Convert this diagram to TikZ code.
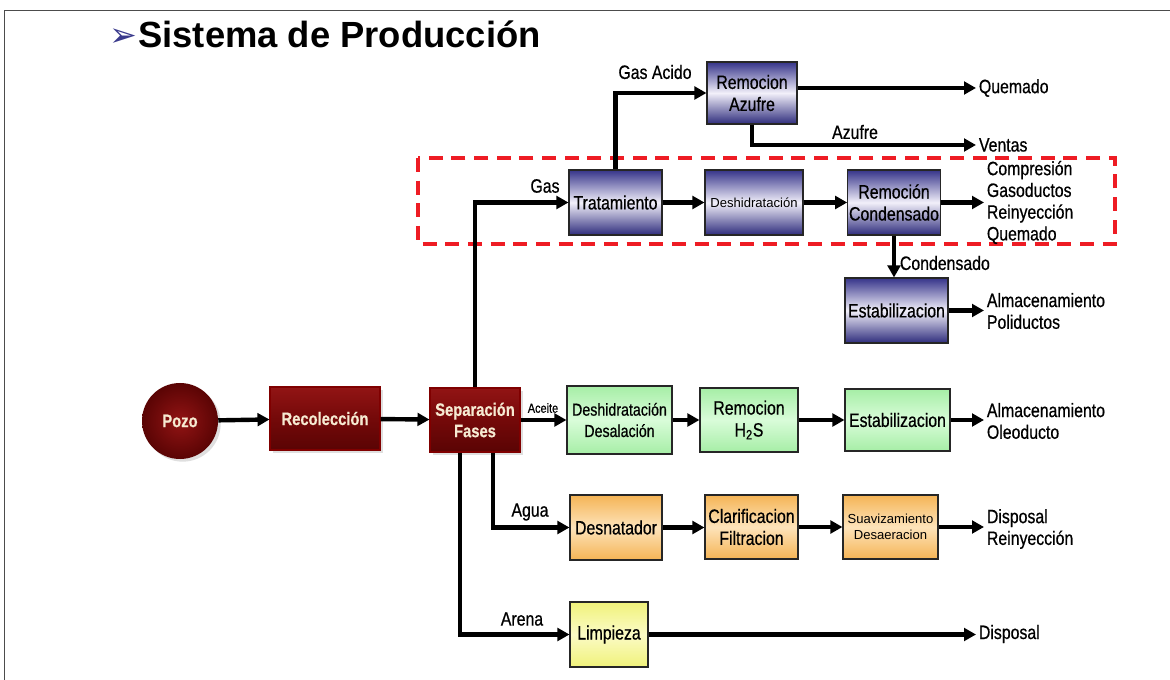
\documentclass[tikz,border=0pt]{standalone}
\usepackage{fontspec}
\setmainfont{Liberation Sans}
\newfontfamily\narrowf[FakeStretch=0.82,FakeBold=0.6]{Liberation Sans}
\newfontfamily\dejavu{DejaVu Sans}
\usetikzlibrary{arrows.meta,calc,shadows}
\definecolor{redA}{HTML}{921414}
\definecolor{redB}{HTML}{740909}
\definecolor{redC}{HTML}{5A0404}
\definecolor{cream}{HTML}{F6EAD2}
\definecolor{blueA}{HTML}{36348A}
\definecolor{blueB}{HTML}{F2F0FA}
\definecolor{blueC}{HTML}{2E2C7C}
\definecolor{greenA}{HTML}{A6EEA6}
\definecolor{greenB}{HTML}{D9FCD9}
\definecolor{orangeA}{HTML}{F5B455}
\definecolor{orangeB}{HTML}{FDE3BA}
\definecolor{yellowA}{HTML}{F0F27A}
\definecolor{yellowB}{HTML}{FBFBC6}
\definecolor{dashred}{HTML}{EE1C24}
\definecolor{titlearrow}{HTML}{3A3A8C}
\newcommand\mkbox[7]{\node[#6, minimum width={(#4-#2)*0.75pt}, minimum height={(#5-#3)*0.75pt}] (#1) at ({(#2+#4)/2},{(#3+#5)/2}) {#7};}
\begin{document}
\begin{tikzpicture}[x=0.75pt,y=-0.75pt,
  box/.style={draw=black!85, line width=0.8pt, inner sep=1pt, align=center,
    font=\narrowf\fontsize{14.5}{16.5}\selectfont},
  smallfont/.style={font=\fontsize{9.8}{12}\selectfont},
  redbox/.style={box, draw=black!50!red, top color=redA, bottom color=redC, middle color=redB,
    text=cream, font=\narrowf\bfseries\fontsize{13.5}{16}\selectfont,
    drop shadow={opacity=0.25, shadow xshift=2pt, shadow yshift=-2pt}},
  bluebox/.style={box, top color=blueA, bottom color=blueC, middle color=blueB},
  greenbox/.style={box, top color=greenA, bottom color=greenA, middle color=greenB},
  orangebox/.style={box, top color=orangeA, bottom color=orangeA, middle color=orangeB},
  yellowbox/.style={box, top color=yellowA, bottom color=yellowA, middle color=yellowB},
  lab/.style={inner sep=2pt, align=left, font=\narrowf\fontsize{14.5}{16.3}\selectfont},
  flow/.style={line width=3.3pt, -{Triangle[length=9pt,width=9.5pt]}}
]
\useasboundingbox (0,0) rectangle (1170,680);
\fill[white] (0,0) rectangle (1170,680);
\draw[black!70, line width=1.2pt] (4.5,680) -- (4.5,10.5) -- (1170,10.5);

% title
\node[anchor=base west, inner sep=0, font=\bfseries\fontsize{27.3}{30}\selectfont] (title) at (138,48) {Sistema de Producción};
\node[anchor=base east, inner sep=0, text=titlearrow, font=\dejavu\fontsize{25}{27}\selectfont] (tarrow) at ([yshift=1pt]title.base west) {➢};

% red dashed frame
\draw[dashred, line width=3pt, dash pattern=on 10.5pt off 6.5pt] (418,158) rectangle (1115,244);

% main chain
\node[circle, minimum size={76*0.75pt}, inner sep=0, shading=radial, inner color=redA, outer color=redC,
  text=cream, font=\narrowf\bfseries\fontsize{13.5}{16}\selectfont,
  drop shadow={opacity=0.25, shadow xshift=2pt, shadow yshift=-2pt}] (pozo) at (180,421) {Pozo};
\mkbox{rec}{270}{387}{380}{450}{redbox}{Recolección}
\mkbox{sep}{430}{388}{520}{452}{redbox}{Separación\\Fases}

% gas
\mkbox{azu}{707}{62}{797}{124}{bluebox}{Remocion\\Azufre}
\mkbox{trat}{569}{170}{662}{235}{bluebox}{Tratamiento}
\mkbox{deshg}{705}{170}{803}{235}{bluebox,smallfont}{Deshidratación}
\mkbox{remc}{848}{170}{940}{235}{bluebox}{Remoción\\Condensado}
\mkbox{estb}{845}{278}{948}{343}{bluebox}{Estabilizacion}

% oil
\mkbox{deshd}{567}{386}{672}{454}{greenbox,font=\narrowf\fontsize{13}{16}\selectfont}{Deshidratación\\Desalación}
\mkbox{h2s}{700}{388}{798}{452}{greenbox}{Remocion\\H\textsubscript{2}S}
\mkbox{estg}{845}{389}{950}{451}{greenbox}{Estabilizacion}

% water
\mkbox{desn}{570}{495}{662}{560}{orangebox}{Desnatador}
\mkbox{clar}{705}{495}{798}{559}{orangebox}{Clarificacion\\Filtracion}
\mkbox{suav}{843}{495}{938}{559}{orangebox,smallfont}{Suavizamiento\\Desaeracion}

% sand
\mkbox{limp}{570}{602}{648}{667}{yellowbox}{Limpieza}

% outputs
\node[lab, anchor=west] (quem) at (976,88) {Quemado};
\node[lab, anchor=west] (vent) at (976,145) {Ventas};
\node[lab, anchor=west] (gasout) at (984,202.5) {Compresión\\Gasoductos\\Reinyección\\Quemado};
\node[lab, anchor=west] (polout) at (984,311) {Almacenamiento\\Poliductos};
\node[lab, anchor=west] (oleout) at (984,421) {Almacenamiento\\Oleoducto};
\node[lab, anchor=west] (aguaout) at (984,529) {Disposal\\Reinyección};
\node[lab, anchor=west] (arenaout) at (976,634) {Disposal};

% connectors main chain
\draw[flow] (pozo) -- (rec);
\draw[flow] (rec) -- (sep);

% gas connectors
\draw[flow] (sep.north) |- (trat.west);
\draw[flow] (trat.north) |- (azu.west);
\draw[flow] (azu.east |- quem.west) -- (quem.west);
\draw[flow] (azu.south) |- (vent.west);
\draw[flow] (trat.east) -- (trat.east -| deshg.west);
\draw[flow] (deshg.east) -- (deshg.east -| remc.west);
\draw[flow] (remc.east) -- (remc.east -| gasout.west);
\draw[flow] (remc.south) -- (remc.south |- estb.north);
\draw[flow] (estb.east) -- (estb.east -| polout.west);

% oil connectors
\draw[flow] (sep.east) -- (sep.east -| deshd.west);
\draw[flow] (deshd.east) -- (deshd.east -| h2s.west);
\draw[flow] (h2s.east) -- (h2s.east -| estg.west);
\draw[flow] (estg.east) -- (estg.east -| oleout.west);

% water connectors
\coordinate (sepw) at ($(sep.south)+(18,0)$);
\coordinate (seps) at ($(sep.south)+(-15,0)$);
\draw[flow] (sepw) |- (desn.west);
\draw[flow] (desn.east) -- (desn.east -| clar.west);
\draw[flow] (clar.east) -- (clar.east -| suav.west);
\draw[flow] (suav.east) -- (suav.east -| aguaout.west);

% sand connectors
\draw[flow] (seps) |- (limp.west);
\draw[flow] (limp.east) -- (limp.east -| arenaout.west);

% connector labels
\node[lab] (lgasacido) at (655,72) {Gas Acido};
\node[lab] (lgas) at (545,186) {Gas};
\node[lab] (lazufre) at (855,132) {Azufre};
\node[lab, anchor=west] (lcond) at (897,263) {Condensado};
\node[inner sep=1pt, font=\narrowf\fontsize{10}{12}\selectfont] (laceite) at (543,408) {Aceite};
\node[lab] (lagua) at (530,512) {Agua};
\node[lab] (larena) at (522,619) {Arena};
\end{tikzpicture}
\end{document}
